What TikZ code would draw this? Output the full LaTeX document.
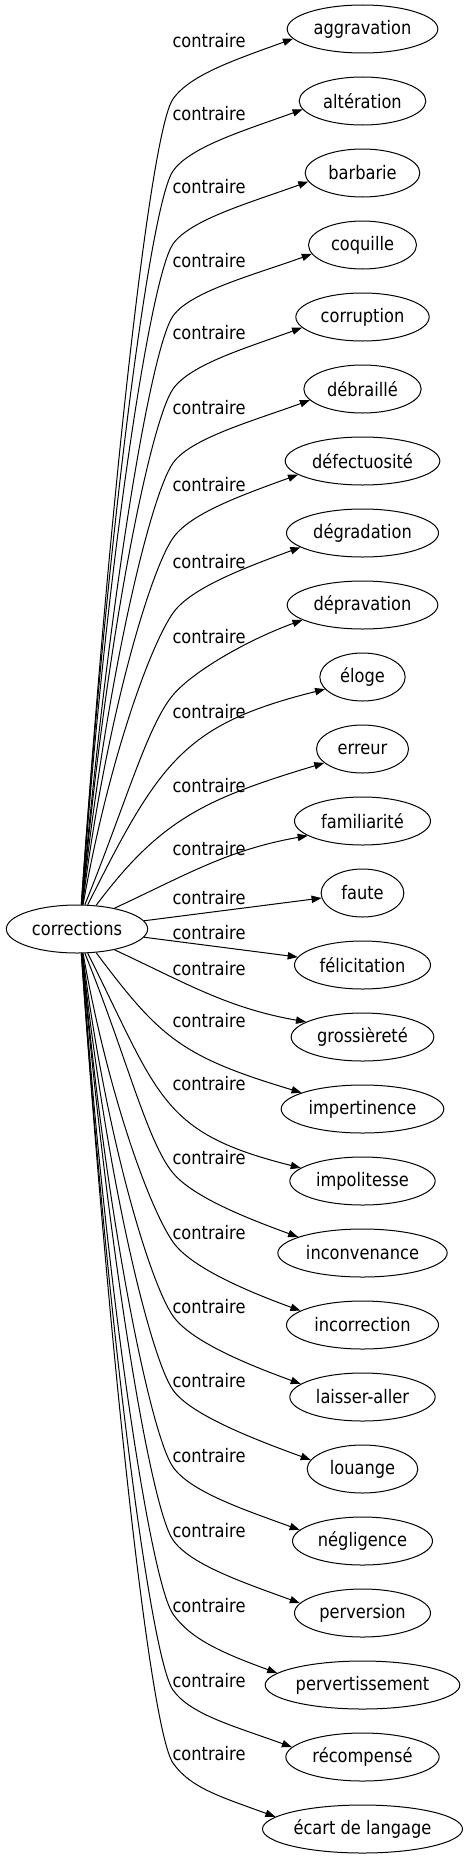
\documentclass[tikz,border=0pt]{standalone}
\usepackage{fontspec}
\setmainfont{DejaVu Sans}[FakeStretch=0.87]
\usetikzlibrary{shapes.geometric,arrows.meta}
\begin{document}
\begin{tikzpicture}[x=0.75pt,y=0.75pt,
  word/.style={draw,ellipse,inner xsep=0pt,inner ysep=0pt,minimum height=36pt,line width=0.75pt,font=\fontsize{14}{16}\selectfont},
  lab/.style={inner sep=0pt,font=\fontsize{14}{16}\selectfont},
  link/.style={line width=0.75pt,-{Triangle[length=7.5pt,width=5.5pt]}}]
\useasboundingbox (0,0) rectangle (467,-1859);
\node[word,minimum width=106pt] (corr) at (77,-929) {corrections};
\node[word,minimum width=113pt] (aggravation) at (362.5,-29) {aggravation};
\node[word,minimum width=95pt] (alteration) at (362.5,-101) {altération};
\node[word,minimum width=86pt] (barbarie) at (362.5,-173) {barbarie};
\node[word,minimum width=81pt] (coquille) at (362.5,-245) {coquille};
\node[word,minimum width=100pt] (corruption) at (362.5,-317) {corruption};
\node[word,minimum width=88pt] (debraille) at (362.5,-389) {débraillé};
\node[word,minimum width=116pt] (defectuosite) at (362.5,-461) {défectuosité};
\node[word,minimum width=114pt] (degradation) at (362.5,-533) {dégradation};
\node[word,minimum width=113pt] (depravation) at (362.5,-605) {dépravation};
\node[word,minimum width=64pt] (eloge) at (362.5,-677) {éloge};
\node[word,minimum width=69pt] (erreur) at (362.5,-749) {erreur};
\node[word,minimum width=102pt] (familiarite) at (362.5,-821) {familiarité};
\node[word,minimum width=62pt] (faute) at (362.5,-893) {faute};
\node[word,minimum width=102pt] (felicitation) at (362.5,-965) {félicitation};
\node[word,minimum width=107pt] (grossierete) at (362.5,-1037) {grossièreté};
\node[word,minimum width=122pt] (impertinence) at (362.5,-1109) {impertinence};
\node[word,minimum width=109pt] (impolitesse) at (362.5,-1181) {impolitesse};
\node[word,minimum width=127pt] (inconvenance) at (362.5,-1253) {inconvenance};
\node[word,minimum width=114pt] (incorrection) at (362.5,-1325) {incorrection};
\node[word,minimum width=109pt] (laisseraller) at (362.5,-1397) {laisser-aller};
\node[word,minimum width=83pt] (louange) at (362.5,-1469) {louange};
\node[word,minimum width=105pt] (negligence) at (362.5,-1541) {négligence};
\node[word,minimum width=102pt] (perversion) at (362.5,-1613) {perversion};
\node[word,minimum width=146pt] (pervertissement) at (362.5,-1685) {pervertissement};
\node[word,minimum width=115pt] (recompense) at (362.5,-1757) {récompensé};
\node[word,minimum width=150pt] (ecart) at (362.5,-1829) {écart de langage};
\draw[link] (corr.80) .. controls +(86:403) and +(235:40) .. (173,-99) .. controls +(55:30) and +(200:60) .. (aggravation.188);
\draw[link] (corr.80) .. controls +(86:367) and +(235:40) .. (173,-171) .. controls +(55:30) and +(200:60) .. (alteration.188);
\draw[link] (corr.79) .. controls +(86:330) and +(235:40) .. (173,-244) .. controls +(55:30) and +(200:60) .. (barbarie.189);
\draw[link] (corr.79) .. controls +(85:294) and +(235:40) .. (173,-316) .. controls +(55:30) and +(200:60) .. (coquille.190);
\draw[link] (corr.78) .. controls +(85:258) and +(235:40) .. (173,-389) .. controls +(55:30) and +(200:60) .. (corruption.190);
\draw[link] (corr.78) .. controls +(84:221) and +(235:40) .. (173,-463) .. controls +(55:30) and +(200:60) .. (debraille.192);
\draw[link] (corr.77) .. controls +(83:183) and +(235:40) .. (173,-538) .. controls +(55:30) and +(200:60) .. (defectuosite.192);
\draw[link] (corr.76) .. controls +(80:146) and +(235:40) .. (173,-613) .. controls +(55:30) and +(200:60) .. (degradation.193);
\draw[link] (corr.72) .. controls +(68:110) and +(230:40) .. (173,-695) .. controls +(50:30) and +(200:60) .. (depravation.194);
\draw[link] (corr.66) .. controls (160,-760) and +(-140,-35) .. (eloge.198);
\draw[link] (corr.51) .. controls (160,-820) and +(-120,-36) .. (erreur.200);
\draw[link] (corr.29) to[out=25,in=190] (familiarite.195);
\draw[link] (corr.7) -- (faute.187);
\draw[link] (corr.353) -- (felicitation.173);
\draw[link] (corr.331) to[out=-25,in=170] (grossierete.165);
\draw[link] (corr.309) .. controls (160,-1038) and +(-120,36) .. (impertinence.165);
\draw[link] (corr.294) .. controls (160,-1098) and +(-140,35) .. (impolitesse.168);
\draw[link] (corr.288) .. controls +(-68:110) and +(130:40) .. (173,-1173) .. controls +(-50:30) and +(160:60) .. (inconvenance.166);
\draw[link] (corr.284) .. controls +(-80:145) and +(125:40) .. (173,-1242) .. controls +(-55:30) and +(160:60) .. (incorrection.167);
\draw[link] (corr.283) .. controls +(-83:182) and +(125:40) .. (173,-1316) .. controls +(-55:30) and +(160:60) .. (laisseraller.168);
\draw[link] (corr.282) .. controls +(-84:219) and +(125:40) .. (173,-1390) .. controls +(-55:30) and +(160:60) .. (louange.170);
\draw[link] (corr.282) .. controls +(-85:257) and +(125:40) .. (173,-1467) .. controls +(-55:30) and +(160:60) .. (negligence.170);
\draw[link] (corr.281) .. controls +(-85:294) and +(125:40) .. (173,-1540) .. controls +(-55:30) and +(160:60) .. (perversion.171);
\draw[link] (corr.281) .. controls +(-86:330) and +(125:40) .. (173,-1614) .. controls +(-55:30) and +(160:60) .. (pervertissement.172);
\draw[link] (corr.280) .. controls +(-86:368) and +(125:40) .. (173,-1690) .. controls +(-55:30) and +(160:60) .. (recompense.172);
\draw[link] (corr.280) .. controls +(-86:405) and +(125:40) .. (173,-1763) .. controls +(-55:30) and +(160:60) .. (ecart.172);
\node[lab] (l1) at (209,-41) {contraire};
\node[lab] (l2) at (209,-114) {contraire};
\node[lab] (l3) at (209,-187) {contraire};
\node[lab] (l4) at (209,-261) {contraire};
\node[lab] (l5) at (209,-333) {contraire};
\node[lab] (l6) at (209,-408) {contraire};
\node[lab] (l7) at (209,-485) {contraire};
\node[lab] (l8) at (209,-562) {contraire};
\node[lab] (l9) at (209,-637) {contraire};
\node[lab] (l10) at (209,-712) {contraire};
\node[lab] (l11) at (209,-786) {contraire};
\node[lab] (l12) at (209,-849) {contraire};
\node[lab] (l13) at (209,-898) {contraire};
\node[lab] (l14) at (209,-933) {contraire};
\node[lab] (l15) at (209,-969) {contraire};
\node[lab] (l16) at (209,-1021) {contraire};
\node[lab] (l17) at (209,-1084) {contraire};
\node[lab] (l18) at (209,-1158) {contraire};
\node[lab] (l19) at (209,-1233) {contraire};
\node[lab] (l20) at (209,-1307) {contraire};
\node[lab] (l21) at (209,-1381) {contraire};
\node[lab] (l22) at (209,-1456) {contraire};
\node[lab] (l23) at (209,-1531) {contraire};
\node[lab] (l24) at (209,-1606) {contraire};
\node[lab] (l25) at (209,-1681) {contraire};
\node[lab] (l26) at (209,-1754) {contraire};
\end{tikzpicture}
\end{document}
